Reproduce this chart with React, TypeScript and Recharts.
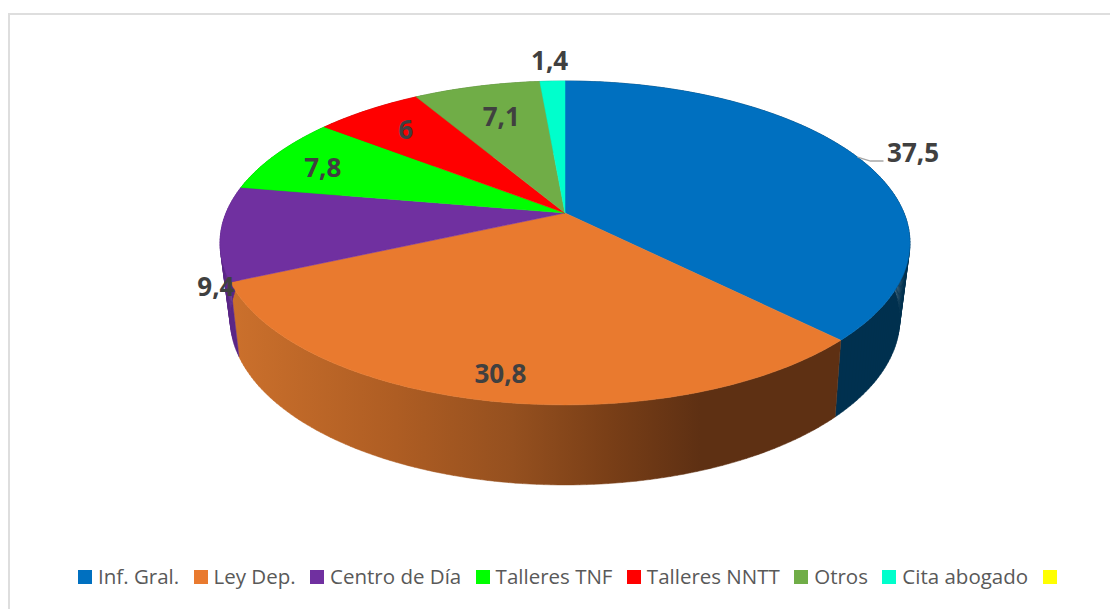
import React from 'react';
import { PieChart, Pie, Cell, Legend } from 'recharts';

const categories = ['Inf. Gral.', 'Ley Dep.', 'Centro de Día', 'Talleres TNF', 'Talleres NNTT', 'Otros', 'Cita abogado', ' '];
const values = [37.5, 30.8, 9.4, 7.8, 6, 7.1, 1.4, 0];
const topColors = ['#0070C0', '#E97A2F', '#7030A0', '#00FF00', '#FF0000', '#70AD47', '#00FFCC', '#FFFF00'];
const wallColors = ['#00304F', 'url(#leyWall)', '#5B2786', '#00A000', '#A00000', '#4A7530', '#00A080', '#A0A000'];

// label nudges in px from the point at 80% of the slice radius
const labelShift = [[111, -16], [-7, 16], [-75, 57], [-8, 1.5], [2, 0.5], [9, 7], [-5, -44], [0, 0]];

const pieData = categories.map((name, i) => ({ name, value: values[i] }));

const CX = 565;
const CY = 213;
// the pie is tilted with perspective, the near side is bigger than the far side
const topFace = { rx: 339, ry: 156.4, k: 0.185, dy: 0 };
const bottomFace = { rx: 328, ry: 159.4, k: 0.2, dy: 72.7 };

type Face = typeof topFace;

function project(angle: number, face: Face, r = 1) {
  const rad = (angle * Math.PI) / 180;
  const u = r * Math.cos(rad);
  const v = r * Math.sin(rad);
  const w = 1 + face.k * v;
  return { x: CX + (face.rx * u) / w, y: CY + face.dy - (face.ry * v) / w };
}

function arcPoints(start: number, end: number, face: Face) {
  const steps = Math.max(2, Math.ceil(Math.abs(end - start)));
  const pts = [];
  for (let i = 0; i <= steps; i++) {
    pts.push(project(start + ((end - start) * i) / steps, face));
  }
  return pts;
}

const toPath = (pts: { x: number; y: number }[]) =>
  pts.map((p, i) => `${i ? 'L' : 'M'}${p.x.toFixed(2)} ${p.y.toFixed(2)}`).join(' ');

function TopSlice(props: any) {
  const { startAngle, endAngle, fill } = props;
  if (startAngle === endAngle) return <g />;
  const d = `M${CX} ${CY} ${toPath(arcPoints(startAngle, endAngle, topFace)).replace('M', 'L')} Z`;
  return <path d={d} fill={fill} stroke={fill} strokeWidth={0.5} />;
}

// one quad per degree, so the side of the pie keeps its tangent edges
function WallSlice(props: any) {
  const { startAngle, endAngle, fill } = props;
  if (startAngle === endAngle) return <g />;
  const upper = arcPoints(startAngle, endAngle, topFace);
  const lower = arcPoints(startAngle, endAngle, bottomFace);
  let d = '';
  for (let i = 0; i < upper.length - 1; i++) {
    d += `${toPath([upper[i], upper[i + 1], lower[i + 1], lower[i]])} Z `;
  }
  return <path d={d} fill={fill} stroke={fill} strokeWidth={0.5} />;
}

function SliceLabel(props: any) {
  const { midAngle, index, value } = props;
  if (!value) return null;
  const p = project(midAngle, topFace, 0.8);
  const [dx, dy] = labelShift[index];
  const edge = project(midAngle, topFace);
  return (
    <g>
      {index === 0 && (
        <path
          d={`M${edge.x} ${edge.y} L${edge.x + 13} ${edge.y + 4} L${edge.x + 26} ${edge.y + 4}`}
          fill="none"
          stroke="#A6A6A6"
          strokeWidth={1.5}
        />
      )}
      <text
        x={p.x + dx}
        y={p.y + dy}
        textAnchor="middle"
        dominantBaseline="central"
        fontFamily="'Open Sans', sans-serif"
        fontWeight={700}
        fontSize={26}
        fill="#404040"
      >
        {String(value).replace('.', ',')}
      </text>
    </g>
  );
}

function LegendRow(props: any) {
  const items = props.payload.filter((item: any) => item.type !== 'none');
  return (
    <div style={{ display: 'flex', whiteSpace: 'nowrap', fontFamily: "'Open Sans', sans-serif", fontSize: 20.5, color: '#595959', lineHeight: '24px' }}>
      {items.map((item: any) => (
        <div key={item.value} style={{ display: 'flex', alignItems: 'center', marginRight: 14.4 }}>
          <span style={{ width: 14, height: 14, background: item.color, marginRight: 6 }} />
          <span style={{ position: 'relative', top: -1 }}>{item.value}</span>
        </div>
      ))}
    </div>
  );
}

export default function App() {
  return (
    <div style={{ position: 'absolute', left: 0, top: 0, width: 1110, height: 609, background: '#fff', overflow: 'hidden' }}>
      <div style={{ position: 'absolute', left: 8, top: 13, width: 1120, height: 620, border: '2px solid #DEDEDE', boxSizing: 'border-box' }} />
      <PieChart width={1110} height={609} margin={{ top: 0, right: 0, bottom: 0, left: 0 }} style={{ position: 'absolute', left: 0, top: 0 }}>
        <defs>
          <linearGradient id="leyWall" gradientUnits="userSpaceOnUse" x1="232" y1="0" x2="700" y2="0">
            <stop offset="0" stopColor="#CB702C" />
            <stop offset="0.35" stopColor="#AE5D23" />
            <stop offset="0.6" stopColor="#95501F" />
            <stop offset="0.8" stopColor="#7A3F17" />
            <stop offset="1" stopColor="#5E3013" />
          </linearGradient>
        </defs>
        <Pie
          data={pieData}
          dataKey="value"
          nameKey="name"
          cx={CX}
          cy={CY}
          outerRadius={300}
          startAngle={90}
          endAngle={-270}
          legendType="none"
          shape={WallSlice}
          isAnimationActive={false}
        >
          {wallColors.map((c) => (
            <Cell key={c} fill={c} />
          ))}
        </Pie>
        <Pie
          data={pieData}
          dataKey="value"
          nameKey="name"
          cx={CX}
          cy={CY}
          outerRadius={300}
          startAngle={90}
          endAngle={-270}
          shape={TopSlice}
          label={SliceLabel}
          labelLine={false}
          isAnimationActive={false}
        >
          {topColors.map((c) => (
            <Cell key={c} fill={c} />
          ))}
        </Pie>
        <Legend content={LegendRow} itemSorter={null} wrapperStyle={{ left: 78, top: 565, width: 1030 }} />
      </PieChart>
    </div>
  );
}
